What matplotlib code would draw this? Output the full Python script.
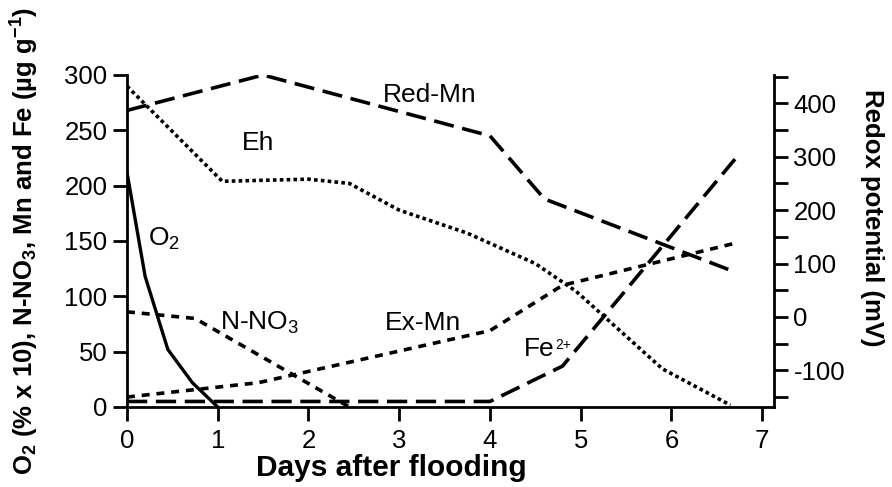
import matplotlib
matplotlib.use("Agg")
import matplotlib.pyplot as plt
from matplotlib.ticker import MultipleLocator

plt.rcParams['font.family'] = ['Liberation Sans', 'DejaVu Sans']
plt.rcParams['mathtext.fontset'] = 'custom'
plt.rcParams['mathtext.rm'] = 'Liberation Sans'
plt.rcParams['mathtext.it'] = 'Liberation Sans'
plt.rcParams['mathtext.bf'] = 'Liberation Sans:bold'
plt.rcParams['mathtext.default'] = 'regular'
plt.rcParams['axes.unicode_minus'] = False

# Data (days after flooding)
o2_x = [0, 0.2, 0.45, 0.72, 1.0]
o2_y = [212, 118, 52, 22, 0]

no3_x = [0, 0.75, 2.45]
no3_y = [86, 80, 0]

exmn_x = [0, 1.45, 4.0, 4.8, 6.7]
exmn_y = [9, 22, 69, 110, 148]

fe_x = [0, 4.0, 4.8, 6.7]
fe_y = [5, 5, 37, 224]

redmn_x = [0, 1.5, 4.0, 4.6, 6.7]
redmn_y = [268, 300, 245, 188, 122]

eh_x = [0, 1.05, 2.0, 2.45, 3.0, 3.75, 4.5, 4.95, 5.9, 6.65]
eh_y = [432, 254, 258, 250, 200, 157, 100, 48, -97, -165]

x_ticks = [0, 1, 2, 3, 4, 5, 6, 7]
left_ticks = [0, 50, 100, 150, 200, 250, 300]
right_ticks = [-100, 0, 100, 200, 300, 400]

fig = plt.figure(figsize=(8.92, 4.87), dpi=100)
ax = fig.add_axes([127/892, 1-407/487, (774-127)/892, (407-75)/487])
ax2 = ax.twinx()

LW = 2.6
long_dash = (0, (5.6, 2.4))
short_dash = (0, (2.2, 1.9))
dots = (0, (1.0, 0.9))

ax.plot(o2_x, o2_y, color='black', lw=2.4, solid_joinstyle='miter')
ax.plot(no3_x, no3_y, color='black', lw=LW, linestyle=short_dash, dash_capstyle='butt')
ax.plot(exmn_x, exmn_y, color='black', lw=LW, linestyle=short_dash, dash_capstyle='butt')
ax.plot(fe_x, fe_y, color='black', lw=LW, linestyle=long_dash, dash_capstyle='butt')
ax.plot(redmn_x, redmn_y, color='black', lw=LW, linestyle=long_dash, dash_capstyle='butt')
ax2.plot(eh_x, eh_y, color='black', lw=LW, linestyle=dots, dash_capstyle='butt')

ax.set_xlim(0, 7.13)
ax.set_ylim(0, 300)
ax2.set_ylim(-168.5, 453)

ax.set_xticks(x_ticks)
ax.set_yticks(left_ticks)
ax2.set_yticks(right_ticks)
ax2.yaxis.set_minor_locator(MultipleLocator(50))

for a in (ax, ax2):
    a.spines['top'].set_visible(False)
    for s in a.spines.values():
        s.set_linewidth(2)
ax.spines['right'].set_visible(False)
ax2.spines['left'].set_visible(False)
ax2.spines['bottom'].set_visible(False)

TS = 18.5
TL = 10
ax.tick_params(axis='y', which='major', direction='out', length=TL, width=2,
               labelsize=TS, pad=4)
ax.tick_params(axis='x', which='major', direction='out', length=TL, width=2,
               labelsize=TS, pad=6)
ax2.tick_params(axis='y', which='major', direction='out', length=TL, width=2,
                labelsize=TS, pad=4)
ax2.tick_params(axis='y', which='minor', direction='out', length=TL, width=2)

ax.set_xlabel('Days after flooding', fontsize=21.5, fontweight='bold',
              va='center', ha='center')
ax.xaxis.set_label_coords(0.408, -0.185)
ax.set_ylabel(r'O$_2$ (% x 10), N-NO$_3$, Mn and Fe (µg g$^{-1}$)',
              fontsize=18.5, fontweight='bold', va='center', ha='center')
ax.yaxis.set_label_coords(-0.158, 0.5)
ax2.set_ylabel('Redox potential (mV)', fontsize=18.5, fontweight='bold',
               rotation=270, va='center', ha='center')
ax2.yaxis.set_label_coords(1.151, 0.569)

fs = 19
ax.text(3.34, 282, 'Red-Mn', fontsize=fs, ha='center', va='center')
ax.text(1.44, 239, 'Eh', fontsize=fs, ha='center', va='center')
ax.text(0.23, 152, r'O$_2$', fontsize=fs, ha='left', va='center')
ax.text(1.03, 76, r'N-NO$_3$', fontsize=fs, ha='left', va='center')
ax.text(2.84, 76, 'Ex-Mn', fontsize=fs, ha='left', va='center')
fe_t = ax.text(4.37, 52, 'Fe', fontsize=fs, ha='left', va='center')

fig.canvas.draw()
bb = fe_t.get_window_extent()
ax.text(bb.x1 + 1, bb.y1 - 1, '2+', fontsize=10, ha='left', va='top',
        transform=None)

fig.savefig('out.png', dpi=100)
